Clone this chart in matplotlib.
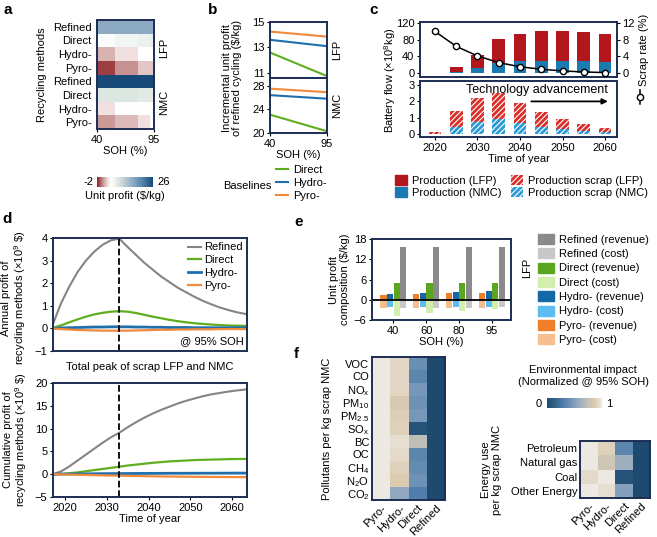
import numpy as np
import matplotlib
matplotlib.use('Agg')
import matplotlib.pyplot as plt
from matplotlib.colors import LinearSegmentedColormap
from matplotlib.patches import Patch
from matplotlib.lines import Line2D

plt.rcParams['font.family'] = ['Liberation Sans', 'DejaVu Sans']
plt.rcParams['font.size'] = 8
plt.rcParams['mathtext.default'] = 'regular'
plt.rcParams['hatch.linewidth'] = 0.8

# ---- data ----
# a: unit profit heatmap
a_rows = ['Refined', 'Direct', 'Hydro-', 'Pyro-', 'Refined', 'Direct', 'Hydro-', 'Pyro-']
a_soh_edges = [40, 57, 80, 91, 95]
a_profit = [[16, 16, 16, 16],
            [5.5, 6.5, 7, 7.5],
            [2, 3.5, 5, 5],
            [-1.2, 1.0, 2.5, 2.5],
            [26, 26, 26, 26],
            [8.5, 8.5, 8, 8],
            [3.5, 5.2, 5.2, 5.2],
            [1.2, 2.2, 3.5, 5.2]]

# b: incremental unit profit
b_soh = [40, 95]
b_lfp = {'Direct': [12.6, 10.75], 'Hydro-': [13.6, 13.1], 'Pyro-': [14.25, 13.85]}
b_nmc = {'Direct': [23.1, 20.3], 'Hydro-': [26.4, 25.8], 'Pyro-': [27.5, 26.9]}

# c: battery flow
c_years = [2020, 2025, 2030, 2035, 2040, 2045, 2050, 2055, 2060]
c_prod_nmc = [0, 3, 11, 23, 29, 29, 29, 29, 26]
c_prod_lfp = [0, 12, 32, 58, 64, 71, 71, 69, 67]
c_scrap_nmc = [0.02, 0.41, 0.75, 0.9, 0.66, 0.41, 0.29, 0.2, 0.14]
c_scrap_lfp = [0.12, 1.02, 1.44, 1.63, 1.22, 0.96, 0.61, 0.4, 0.25]
c_scrap_rate = [10, 6.4, 4.1, 2.5, 1.5, 0.9, 0.5, 0.25, 0.1]

# d: annual / cumulative profit
d_years = [2017, 2019, 2021, 2023, 2025, 2027, 2029, 2031, 2033, 2035, 2037, 2039,
           2041, 2043, 2045, 2047, 2049, 2051, 2053, 2055, 2057, 2059, 2061, 2063.5]
d_annual = {
    'Refined': [0.15, 1.1, 1.85, 2.5, 3.0, 3.4, 3.7, 3.9, 3.97, 3.6, 3.25, 2.9,
                2.6, 2.3, 2.05, 1.8, 1.6, 1.4, 1.22, 1.07, 0.93, 0.82, 0.72, 0.63],
    'Direct': [0.02, 0.13, 0.27, 0.4, 0.52, 0.62, 0.69, 0.74, 0.76, 0.74, 0.68, 0.6,
               0.52, 0.45, 0.38, 0.32, 0.27, 0.23, 0.2, 0.17, 0.15, 0.13, 0.12, 0.11],
    'Hydro-': [0.0, 0.02, 0.03, 0.04, 0.05, 0.06, 0.06, 0.07, 0.07, 0.07, 0.06, 0.06,
               0.05, 0.05, 0.04, 0.04, 0.04, 0.03, 0.03, 0.03, 0.03, 0.03, 0.03, 0.03],
    'Pyro-': [0.0, -0.03, -0.05, -0.07, -0.08, -0.09, -0.1, -0.1, -0.1, -0.1, -0.09, -0.08,
              -0.07, -0.06, -0.06, -0.05, -0.05, -0.04, -0.04, -0.04, -0.03, -0.03, -0.03, -0.03],
}
d_cumul = {
    'Refined': [0, 0.6, 1.7, 3.0, 4.3, 5.6, 6.9, 8.1, 9.1, 10.3, 11.4, 12.4,
                13.3, 14.1, 14.8, 15.5, 16.1, 16.6, 17.1, 17.5, 17.8, 18.1, 18.35, 18.6],
    'Direct': [0, 0.05, 0.2, 0.4, 0.65, 0.9, 1.15, 1.4, 1.65, 1.9, 2.1, 2.3,
               2.5, 2.65, 2.8, 2.9, 3.0, 3.1, 3.15, 3.2, 3.25, 3.3, 3.33, 3.35],
    'Hydro-': [0, 0.02, 0.04, 0.06, 0.08, 0.1, 0.12, 0.13, 0.14, 0.15, 0.16, 0.17,
               0.18, 0.19, 0.2, 0.2, 0.21, 0.21, 0.22, 0.22, 0.23, 0.23, 0.24, 0.24],
    'Pyro-': [0, -0.04, -0.08, -0.12, -0.16, -0.2, -0.25, -0.29, -0.33, -0.37, -0.4, -0.43,
              -0.46, -0.49, -0.51, -0.53, -0.55, -0.57, -0.59, -0.6, -0.61, -0.62, -0.63, -0.64],
}
d_peak_year = 2033

# e: unit profit composition (LFP)
e_soh = ['40', '60', '80', '95']
e_methods = ['Pyro-', 'Hydro-', 'Direct', 'Refined']
e_revenue = {'Pyro-': [1.3, 1.6, 1.9, 2.1], 'Hydro-': [1.7, 2.0, 2.2, 2.5],
             'Direct': [4.9, 4.9, 4.9, 4.9], 'Refined': [15.6, 15.6, 15.6, 15.6]}
e_cost = {'Pyro-': [-2.3, -2.3, -2.3, -2.3], 'Hydro-': [-2.2, -2.2, -2.2, -2.2],
          'Direct': [-4.8, -3.9, -3.3, -2.8], 'Refined': [-2.4, -2.3, -2.3, -2.2]}

# f: environmental impact
f_methods = ['Pyro-', 'Hydro-', 'Direct', 'Refined']
f_pollutants = ['VOC', 'CO', r'NO$_x$', r'PM$_{10}$', r'PM$_{2.5}$', r'SO$_x$', 'BC', 'OC',
                r'CH$_4$', r'N$_2$O', r'CO$_2$']
f_poll_vals = [[1, 0.92, 0.40, 0],
               [1, 0.92, 0.35, 0],
               [1, 0.92, 0.45, 0],
               [1, 0.85, 0.42, 0],
               [1, 0.88, 0.45, 0],
               [1, 0.90, 0.05, 0],
               [1, 0.95, 0.72, 0],
               [1, 0.93, 0.35, 0],
               [1, 0.90, 0.38, 0],
               [1, 0.87, 0.42, 0],
               [1, 0.55, 0.30, 0]]
f_energy = ['Petroleum', 'Natural gas', 'Coal', 'Other Energy']
f_energy_vals = [[1, 0.90, 0.35, 0],
                 [1, 0.80, 0.60, 0],
                 [0.93, 1, 0.05, 0],
                 [1, 0.95, 0.50, 0]]

# ---- style ----
W, H = 657, 537
navy = '#1c2d55'
c_green, c_blue, c_orange, c_grey = '#5fae1f', '#1f6fad', '#f28a3c', '#858585'

fig = plt.figure(figsize=(W / 100, H / 100), dpi=100)


def ax_px(x0, y0, x1, y1):
    ax = fig.add_axes([x0 / W, 1 - y1 / H, (x1 - x0) / W, (y1 - y0) / H])
    for s in ax.spines.values():
        s.set_color(navy)
        s.set_linewidth(1.4)
    ax.tick_params(length=2, pad=2, labelsize=8)
    return ax


def ftext(x, y, s, **kw):
    fig.text(x / W, 1 - y / H, s, **kw)


for lab, x, y in [('a', 3, 10), ('b', 208, 10), ('c', 369, 10), ('d', 2, 219), ('e', 294, 222), ('f', 294, 354)]:
    ftext(x, y, lab, fontsize=11, fontweight='bold', va='center')

# ---- a ----
cmap_a = LinearSegmentedColormap.from_list('a', [
    (0, '#8e2023'), (0.1, '#c38c8b'), (0.18, '#ecd7d7'), (0.25, '#ffffff'),
    (0.4, '#d7e2dc'), (0.6, '#9ab4c8'), (0.8, '#5786ad'), (1, '#174a78')])
ax = ax_px(97, 20, 154, 129)
mesh = ax.pcolormesh(a_soh_edges, np.arange(len(a_rows) + 1), np.array(a_profit),
                     cmap=cmap_a, vmin=-2, vmax=26)
ax.set_ylim(len(a_rows), 0)
ax.set_yticks(np.arange(len(a_rows)) + 0.5)
ax.set_yticklabels(a_rows)
ax.set_xticks([40, 95])
ax.set_xlabel('SOH (%)', labelpad=1)
ax.set_ylabel('Recycling methods')
ax.tick_params(left=False)
ftext(164, 48, 'LFP', rotation=90, ha='center', va='center')
ftext(164, 102, 'NMC', rotation=90, ha='center', va='center')

cax = ax_px(97, 177, 153, 187)
cb = fig.colorbar(mesh, cax=cax, orientation='horizontal')
cb.set_ticks([])
cb.outline.set_visible(False)
ftext(93, 182, '-2', ha='right', va='center')
ftext(157, 182, '26', ha='left', va='center')
ftext(125, 196, 'Unit profit ($/kg)', ha='center', va='center')

# ---- b ----
line_cols = {'Direct': c_green, 'Hydro-': c_blue, 'Pyro-': c_orange}
axb1 = ax_px(270, 22, 327, 78)
axb2 = ax_px(270, 78, 327, 133)
for m in ['Direct', 'Hydro-', 'Pyro-']:
    axb1.plot(b_soh, b_lfp[m], color=line_cols[m], lw=1.5, label=m)
    axb2.plot(b_soh, b_nmc[m], color=line_cols[m], lw=1.5)
axb1.set_xlim(40, 95)
axb2.set_xlim(40, 95)
axb1.set_ylim(10.6, 15)
axb1.set_yticks([11, 13, 15])
axb1.set_xticks([])
axb2.set_ylim(20, 29.3)
axb2.set_yticks([20, 24, 28])
axb2.set_xticks([40, 95])
axb2.set_xlabel('SOH (%)', labelpad=1)
ftext(232, 78, 'Incremental unit profit\nof refined cycling ($/kg)', rotation=90,
      ha='center', va='center', linespacing=1.1)
ftext(337, 50, 'LFP', rotation=90, ha='center', va='center')
ftext(337, 105, 'NMC', rotation=90, ha='center', va='center')
handles_b = [Line2D([], [], color=line_cols[m], lw=1.5) for m in ['Direct', 'Hydro-', 'Pyro-']]
fig.legend(handles_b, ['Direct', 'Hydro-', 'Pyro-'], loc='upper left',
           bbox_to_anchor=(276 / W, 1 - 165 / H), frameon=False, handlelength=1.1,
           handletextpad=0.4, labelspacing=0.25, borderaxespad=0, borderpad=0)
ftext(247, 186, 'Baselines', ha='center', va='center')

# ---- c ----
red, blue = '#b3171d', '#1b7ab0'
axc1 = ax_px(420, 22, 617, 77)
axc2 = ax_px(420, 81, 617, 137)
bw = 3
axc1.bar(c_years, c_prod_nmc, width=bw, color=blue)
axc1.bar(c_years, c_prod_lfp, width=bw, bottom=c_prod_nmc, color=red)
axc1.set_xlim(2016.5, 2062.8)
axc1.set_ylim(-9.6, 122.4)
axc1.set_yticks([0, 40, 80, 120])
axc1.set_xticks([])
axr = axc1.twinx()
axr.plot(c_years, c_scrap_rate, color='black', lw=1.1, marker='o', ms=4.5,
         mfc='white', mec='black', mew=1)
axr.set_ylim(-0.96, 12.24)
axr.set_yticks([0, 4, 8, 12])
axr.tick_params(length=2, pad=2)
axr.set_ylabel('Scrap rate (%)', labelpad=3)
for s in axr.spines.values():
    s.set_visible(False)

axc2.bar(c_years, c_scrap_nmc, width=bw, color='#2a9bd6', edgecolor='white', hatch='//////', lw=0)
axc2.bar(c_years, c_scrap_lfp, width=bw, bottom=c_scrap_nmc, color='#d9302b',
         edgecolor='white', hatch='//////', lw=0)
axc2.set_xlim(2016.5, 2062.8)
axc2.set_ylim(-0.18, 3.25)
axc2.set_yticks([0, 1, 2, 3])
axc2.set_xticks([2020, 2030, 2040, 2050, 2060])
axc2.set_xlabel('Time of year', labelpad=1)
axc2.text(0.955, 0.84, 'Technology advancement', transform=axc2.transAxes, ha='right',
          va='center', fontsize=9)
axc2.annotate('', xy=(2061.3, 2.0), xytext=(2042, 2.0),
              arrowprops=dict(arrowstyle='-|>', color='black', lw=1.3, mutation_scale=8))
ftext(390, 80, 'Battery flow (×10$^8$kg)', rotation=90, ha='center', va='center')
fig.add_artist(Line2D([640 / W, 640 / W], [1 - 90 / H, 1 - 104 / H], color='black', lw=1.1))
fig.add_artist(Line2D([640 / W], [1 - 97 / H], marker='o', ms=4.5, mfc='white', mec='black', mew=1))
handles_c = [Patch(color=red), Patch(color=blue),
             Patch(facecolor='#d9302b', edgecolor='white', hatch='//////', lw=0),
             Patch(facecolor='#2a9bd6', edgecolor='white', hatch='//////', lw=0)]
fig.legend(handles_c, ['Production (LFP)', 'Production (NMC)', 'Production scrap (LFP)',
                       'Production scrap (NMC)'], ncol=2, loc='upper left',
           bbox_to_anchor=(395 / W, 1 - 175 / H), frameon=False, handlelength=1.1,
           handleheight=1.0, handletextpad=0.4, labelspacing=0.15, columnspacing=0.9,
           borderaxespad=0, borderpad=0)

# ---- d ----
d_cols = {'Refined': c_grey, 'Direct': c_green, 'Hydro-': c_blue, 'Pyro-': c_orange}
d_lw = {'Refined': 1.5, 'Direct': 1.6, 'Hydro-': 2.0, 'Pyro-': 1.6}
axd1 = ax_px(53, 238, 247, 351)
axd2 = ax_px(53, 383, 247, 497)
for m in ['Refined', 'Direct', 'Hydro-', 'Pyro-']:
    axd1.plot(d_years, d_annual[m], color=d_cols[m], lw=d_lw[m], label=m)
    axd2.plot(d_years, d_cumul[m], color=d_cols[m], lw=d_lw[m])
for a_ in (axd1, axd2):
    a_.axvline(d_peak_year, color='black', ls='--', lw=1.3)
    a_.set_xlim(2017.1, 2063.6)
axd1.set_ylim(-1, 4)
axd1.set_yticks([-1, 0, 1, 2, 3, 4])
axd1.set_xticks([])
axd2.set_ylim(-5, 20)
axd2.set_yticks([-5, 0, 5, 10, 15, 20])
axd2.set_xticks([2020, 2030, 2040, 2050, 2060])
axd2.set_xlabel('Time of year', labelpad=1)
axd1.set_ylabel('Annual profit of\nrecycling methods (×10$^9$ \\$)', linespacing=1.05, labelpad=4)
axd1.yaxis.set_label_coords(-0.13, 0.47)
axd2.set_ylabel('Cumulative profit of\nrecycling methods (×10$^9$ \\$)', linespacing=1.05, labelpad=4)
axd1.text(0.985, 0.04, '@ 95% SOH', transform=axd1.transAxes, ha='right', va='bottom')
axd1.legend(loc='upper right', frameon=False, handlelength=1.1, handletextpad=0.3,
            labelspacing=0.25, borderaxespad=0.3, borderpad=0.1)
ftext(150, 367, 'Total peak of scrap LFP and NMC', ha='center', va='center')

# ---- e ----
e_cols = {'Refined': ('#8a8a8a', '#c8c8c8'), 'Direct': ('#5aa61e', '#d3efae'),
          'Hydro-': ('#1468a8', '#5bbdf0'), 'Pyro-': ('#f07f2a', '#f6bf90')}
axe = ax_px(372, 239, 511, 320)
xe = np.arange(len(e_soh))
for i, m in enumerate(e_methods):
    off = (i - 1.5) * 0.2
    axe.bar(xe + off, e_revenue[m], width=0.19, color=e_cols[m][0])
    axe.bar(xe + off, e_cost[m], width=0.19, color=e_cols[m][1])
axe.axhline(0, color='black', lw=1.3)
axe.set_xlim(-0.65, 3.58)
axe.set_ylim(-6, 18)
axe.set_yticks([-6, 0, 6, 12, 18])
axe.set_xticks(xe)
axe.set_xticklabels(e_soh)
axe.set_xlabel('SOH (%)', labelpad=1)
axe.set_ylabel('Unit profit\ncomposition ($/kg)', linespacing=1.1, labelpad=3)
ftext(527, 268, 'LFP', rotation=90, ha='center', va='center')
handles_e, labels_e = [], []
for m in ['Refined', 'Direct', 'Hydro-', 'Pyro-']:
    handles_e += [Patch(color=e_cols[m][0]), Patch(color=e_cols[m][1])]
    labels_e += [m + ' (revenue)', m + ' (cost)']
fig.legend(handles_e, labels_e, loc='upper left', bbox_to_anchor=(538 / W, 1 - 234 / H),
           frameon=False, handlelength=1.4, handleheight=1.0, handletextpad=0.45,
           labelspacing=0.32, borderaxespad=0, borderpad=0)

# ---- f ----
cmap_f = LinearSegmentedColormap.from_list('f', [
    (0, '#1f4a70'), (0.3, '#4f7eaa'), (0.55, '#8fa8c0'), (0.75, '#c6c2b8'),
    (0.87, '#dbcbb1'), (1, '#ede9e2')])
axf1 = ax_px(372, 357, 445, 500)
im = axf1.pcolormesh(np.array(f_poll_vals), cmap=cmap_f, vmin=0, vmax=1)
axf1.set_ylim(len(f_pollutants), 0)
axf1.set_yticks(np.arange(len(f_pollutants)) + 0.5)
axf1.set_yticklabels(f_pollutants)
axf1.set_xticks(np.arange(4) + 0.5)
axf1.set_xticklabels(f_methods, rotation=45, ha='right', rotation_mode='anchor')
axf1.tick_params(length=0)
axf1.set_ylabel('Pollutants per kg scrap NMC', labelpad=6)

axf2 = ax_px(580, 441, 650, 498)
axf2.pcolormesh(np.array(f_energy_vals), cmap=cmap_f, vmin=0, vmax=1)
axf2.set_ylim(len(f_energy), 0)
axf2.set_yticks(np.arange(len(f_energy)) + 0.5)
axf2.set_yticklabels(f_energy)
axf2.set_xticks(np.arange(4) + 0.5)
axf2.set_xticklabels(f_methods, rotation=45, ha='right', rotation_mode='anchor')
axf2.tick_params(length=0)
axf2.set_ylabel('Energy use\nper kg scrap NMC', linespacing=1.1, labelpad=6)

cax2 = ax_px(547, 398, 602, 408)
cb2 = fig.colorbar(im, cax=cax2, orientation='horizontal')
cb2.set_ticks([])
cb2.outline.set_visible(False)
ftext(542, 404, '0', ha='right', va='center')
ftext(606, 404, '1', ha='left', va='center')
ftext(583, 376, 'Environmental impact\n(Normalized @ 95% SOH)', ha='center', va='center',
      linespacing=1.2)

fig.savefig('out.png', dpi=100)
